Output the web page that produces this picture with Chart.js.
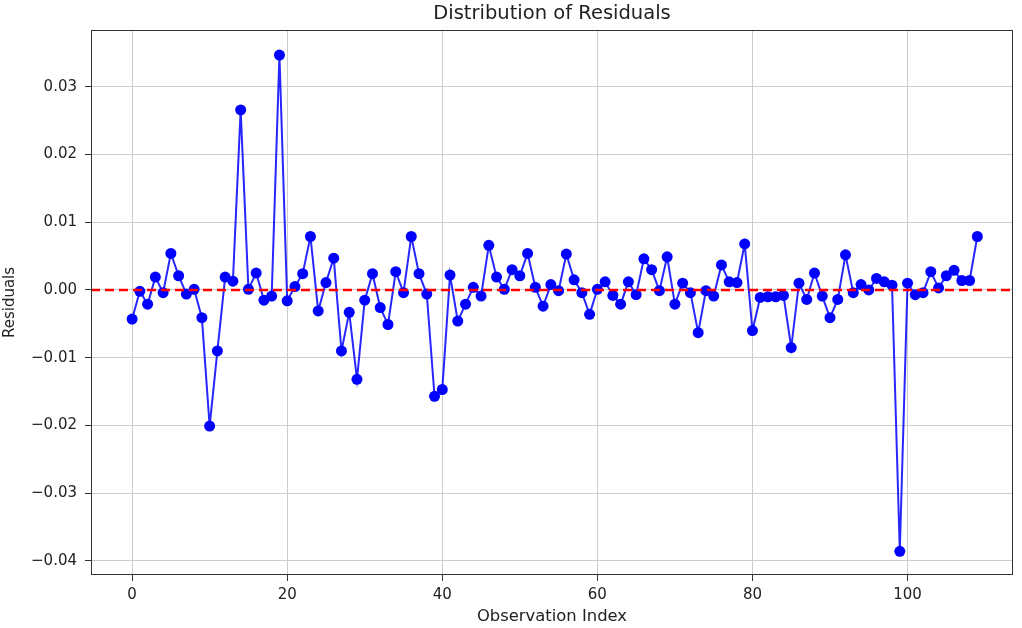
<!DOCTYPE html>
<html>
<head>
<meta charset="utf-8">
<title>Distribution of Residuals</title>
<script src="https://cdn.jsdelivr.net/npm/chart.js@4"></script>
<style>
  html, body { margin: 0; padding: 0; background: #fff; }
  #wrap { width: 1022px; height: 628px; position: relative; }
</style>
</head>
<body>
<div id="wrap"><canvas id="residualsChart"></canvas></div>
<script>
// ==================== DONNEES ====================

const residuals = [
  -0.0043, -0.0002, -0.0021, 0.0019, -0.0004, 0.0054, 0.0021, -0.0006, 0.0001, -0.0041,
  -0.0201, -0.0090, 0.0019, 0.0013, 0.0266, 0.0001, 0.0025, -0.0015, -0.0009, 0.0347,
  -0.0016, 0.0005, 0.0024, 0.0079, -0.0031, 0.0011, 0.0047, -0.0090, -0.0033, -0.0132,
  -0.0015, 0.0024, -0.0026, -0.0051, 0.0027, -0.0004, 0.0079, 0.0024, -0.0006, -0.0157,
  -0.0147, 0.0022, -0.0046, -0.0021, 0.0004, -0.0009, 0.0066, 0.0019, 0.0001, 0.0030,
  0.0021, 0.0054, 0.0004, -0.0024, 0.0008, -0.0001, 0.0053, 0.0015, -0.0004, -0.0036,
  0.0001, 0.0012, -0.0008, -0.0021, 0.0012, -0.0007, 0.0046, 0.0030, -0.0001, 0.0049,
  -0.0021, 0.0010, -0.0004, -0.0063, -0.0001, -0.0009, 0.0037, 0.0012, 0.0011, 0.0068,
  -0.0060, -0.0011, -0.0010, -0.0010, -0.0008, -0.0085, 0.0010, -0.0014, 0.0025, -0.0009,
  -0.0041, -0.0014, 0.0052, -0.0004, 0.0008, 0.0000, 0.0017, 0.0012, 0.0007, -0.0386,
  0.0010, -0.0007, -0.0004, 0.0027, 0.0003, 0.0021, 0.0029, 0.0014, 0.0014, 0.0079
];
const observationIndex = residuals.map((_, i) => i);

const xTicks = [0, 20, 40, 60, 80, 100];
const yTicks = [-0.04, -0.03, -0.02, -0.01, 0.00, 0.01, 0.02, 0.03];
const xRange = [-5.3, 113.6];
const yRange = [-0.0421, 0.0384];
const zeroLine = 0;

// ==================== PLUGINS ====================

// ligne horizontale rouge en pointill√©s √† y = 0
const zeroLinePlugin = {
  id: 'zeroLine',
  afterDatasetsDraw(chart) {
    const { ctx, chartArea, scales } = chart;
    const y = scales.y.getPixelForValue(zeroLine);
    ctx.save();
    ctx.strokeStyle = '#ff0000';
    ctx.lineWidth = 2.3;
    ctx.setLineDash([9, 5]);
    ctx.beginPath();
    ctx.moveTo(chartArea.left, y);
    ctx.lineTo(chartArea.right, y);
    ctx.stroke();
    ctx.restore();
  }
};

// cadre autour de la zone de trac√©
const framePlugin = {
  id: 'frame',
  afterDraw(chart) {
    const { ctx, chartArea } = chart;
    ctx.save();
    ctx.strokeStyle = '#333';
    ctx.lineWidth = 1;
    ctx.strokeRect(Math.round(chartArea.left) + 0.5, Math.round(chartArea.top) + 0.5,
      Math.round(chartArea.right - chartArea.left) - 1, Math.round(chartArea.bottom - chartArea.top) - 1);
    ctx.restore();
  }
};

// ==================== GRAPHIQUE ====================

const ctx = document.getElementById('residualsChart').getContext('2d');
new Chart(ctx, {
  type: 'line',
  data: {
    datasets: [{
      label: 'Residuals',
      data: observationIndex.map(i => ({ x: i, y: residuals[i] })),
      borderColor: 'rgba(0, 0, 255, 0.85)',
      borderWidth: 2,
      backgroundColor: '#0000ff',
      pointBackgroundColor: '#0000ff',
      pointBorderWidth: 0,
      pointRadius: 5.5,
      tension: 0
    }]
  },
  options: {
    responsive: true,
    maintainAspectRatio: false,
    animation: false,
    layout: { padding: { left: 0, right: 9, top: 0, bottom: 0 } },
    plugins: {
      legend: { display: false },
      tooltip: { enabled: false },
      title: {
        display: true,
        fullSize: false,
        text: 'Distribution of Residuals',
        color: '#222',
        font: { family: 'DejaVu Sans', size: 19.5, weight: 'normal' },
        padding: { top: 2, bottom: 4.6 }
      }
    },
    scales: {
      x: {
        type: 'linear',
        min: xRange[0],
        max: xRange[1],
        afterBuildTicks: scale => { scale.ticks = xTicks.map(v => ({ value: v })); },
        afterFit: scale => { scale.height = 53; },
        grid: { color: '#cccccc', lineWidth: 1, tickColor: '#333', tickLength: 6 },
        border: { display: false },
        ticks: {
          color: '#222',
          padding: 5,
          maxRotation: 0,
          font: { family: 'DejaVu Sans', size: 15 },
          callback: v => String(v)
        },
        title: {
          display: true,
          text: 'Observation Index',
          color: '#222',
          font: { family: 'DejaVu Sans', size: 16.4 },
          padding: { top: 0, bottom: 1 }
        }
      },
      y: {
        type: 'linear',
        min: yRange[0],
        max: yRange[1],
        afterBuildTicks: scale => { scale.ticks = yTicks.map(v => ({ value: v })); },
        afterFit: scale => { scale.width = 91; },
        grid: { color: '#cccccc', lineWidth: 1, tickColor: '#333', tickLength: 6 },
        border: { display: false },
        ticks: {
          color: '#222',
          padding: 8,
          font: { family: 'DejaVu Sans', size: 15 },
          callback: v => v.toFixed(2).replace('-', '\u2212')
        },
        title: {
          display: true,
          text: 'Residuals',
          color: '#222',
          font: { family: 'DejaVu Sans', size: 15 },
          padding: { top: 1.5, bottom: 0 }
        }
      }
    }
  },
  plugins: [zeroLinePlugin, framePlugin]
});
</script>
</body>
</html>
